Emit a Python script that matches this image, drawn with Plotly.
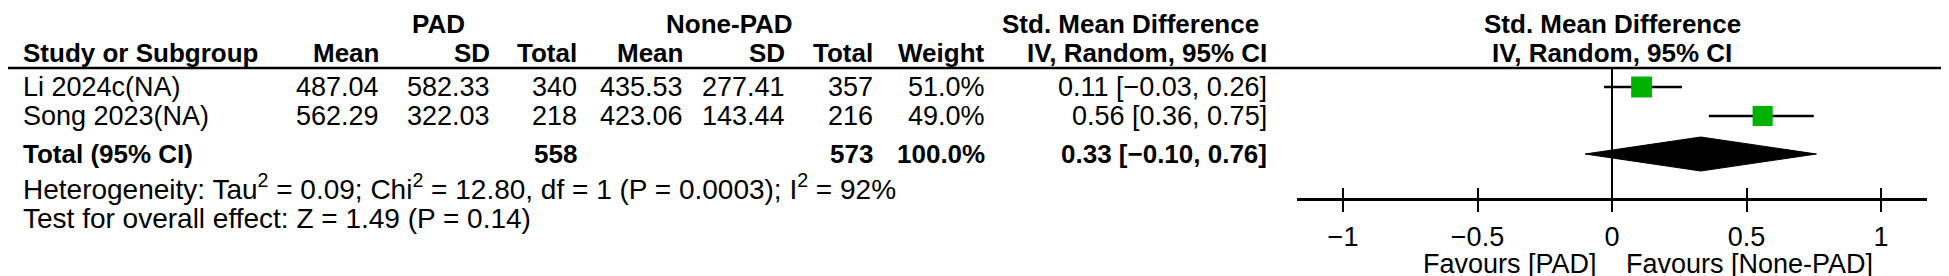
import plotly.graph_objects as go

# ---------------- data ----------------
studies = ["Li 2024c(NA)", "Song 2023(NA)"]
pad_mean = ["487.04", "562.29"]
pad_sd = ["582.33", "322.03"]
pad_total = [340, 218]
non_mean = ["435.53", "423.06"]
non_sd = ["277.41", "143.44"]
non_total = [357, 216]
weights = [51.0, 49.0]
smd = [0.11, 0.56]
ci_lo = [-0.03, 0.36]
ci_hi = [0.26, 0.75]

total_pad = 558
total_non = 573
total_weight = 100.0
pooled = 0.33
pooled_lo = -0.10
pooled_hi = 0.76

heterogeneity = "Heterogeneity: Tau<sup>2</sup> = 0.09; Chi<sup>2</sup> = 12.80, df = 1 (P = 0.0003); I<sup>2</sup> = 92%"
overall = "Test for overall effect: Z = 1.49 (P = 0.14)"

tick_vals = [-1, -0.5, 0, 0.5, 1]
tick_text = ["\u22121", "\u22120.5", "0", "0.5", "1"]
favours_left = "Favours [PAD]"
favours_right = "Favours [None-PAD]"

# ---------------- layout helpers ----------------
W, H = 1949, 276
FONT = "Liberation Sans"
FS = 27          # regular table text
FSF = 28         # footer text
FSB = 26         # bold text
GREEN = "rgb(0,178,0)"

HY1, HY2, LINE_Y = 16, 45, 60
ROW0, ROWH = 79, 29          # first study row pixel, study row spacing
TOTAL_Y = 146
HET_Y, TEST_Y = 179, 210
AXIS_Y = 191
FAV_Y = 256
X0, XK = 1604, 269           # pixel of SMD 0, pixels per SMD unit
XR = 1.17
LEFT_X = 13


def fx(px):
    return px / W


def fy(py):
    return 1 - py / H


row_y = [ROW0 + ROWH * i for i in range(len(studies))]

fig = go.Figure()

# CI lines + squares (y axis runs in pixel rows, top to bottom)
fig.add_trace(go.Scatter(
    x=smd, y=row_y, mode="markers",
    marker=dict(symbol="square", size=[w * 0.41 for w in weights], color=GREEN,
                line=dict(width=0), opacity=1),
    error_x=dict(type="data", symmetric=False,
                 array=[h - m for h, m in zip(ci_hi, smd)],
                 arrayminus=[m - l for m, l in zip(smd, ci_lo)],
                 thickness=2.5, width=0, color="black"),
    cliponaxis=False, showlegend=False, hoverinfo="skip"))

# pooled diamond
hh = 17
fig.add_trace(go.Scatter(
    x=[pooled_lo, pooled, pooled_hi, pooled, pooled_lo],
    y=[TOTAL_Y, TOTAL_Y - hh, TOTAL_Y, TOTAL_Y + hh, TOTAL_Y],
    mode="lines", fill="toself", fillcolor="black",
    line=dict(color="black", width=1), cliponaxis=False,
    showlegend=False, hoverinfo="skip"))

ann = []


def txt(text, x, y, anchor="right", bold=False, size=None):
    sz = size if size else (FSB if bold else FS)
    ann.append(dict(text=f"<b>{text}</b>" if bold else text, x=fx(x), y=fy(y),
                    xref="paper", yref="paper", xanchor=anchor, yanchor="middle",
                    showarrow=False,
                    font=dict(family=FONT, size=sz, color="black")))


# header row 1
txt("PAD", 430, HY1, "center", True)
txt("None-PAD", 721, HY1, "center", True)
txt("Std. Mean Difference", 1122, HY1, "center", True)
txt("Std. Mean Difference", X0, HY1, "center", True)
# header row 2
COLS = [373, 484, 571, 677, 779, 867, 979, 1261]
txt("Study or Subgroup", LEFT_X, HY2, "left", True)
for label, cx in zip(["Mean", "SD", "Total", "Mean", "SD", "Total", "Weight",
                      "IV, Random, 95% CI"], COLS):
    txt(label, cx, HY2, "right", True)
txt("IV, Random, 95% CI", X0, HY2, "center", True)

# study rows
for i, s in enumerate(studies):
    y = row_y[i]
    vals = [pad_mean[i], pad_sd[i], str(pad_total[i]), non_mean[i], non_sd[i],
            str(non_total[i]), f"{weights[i]:.1f}%",
            f"{smd[i]:.2f} [{ci_lo[i]:.2f}, {ci_hi[i]:.2f}]".replace("-", "\u2212")]
    txt(s, LEFT_X, y, "left")
    for v, cx in zip(vals, COLS):
        txt(v, cx, y, "right")

# total row
txt("Total (95% CI)", LEFT_X, TOTAL_Y, "left", True)
txt(str(total_pad), COLS[2], TOTAL_Y, "right", True)
txt(str(total_non), COLS[5], TOTAL_Y, "right", True)
txt(f"{total_weight:.1f}%", COLS[6], TOTAL_Y, "right", True)
txt(f"{pooled:.2f} [{pooled_lo:.2f}, {pooled_hi:.2f}]".replace("-", "\u2212"),
    COLS[7], TOTAL_Y, "right", True)

txt(heterogeneity, LEFT_X, HET_Y, "left", size=FSF)
txt(overall, LEFT_X, TEST_Y, "left", size=FSF)

# favours labels
for t, anc, sh in [(favours_left, "right", -13), (favours_right, "left", 12)]:
    ann.append(dict(text=t, x=0, xref="x", y=fy(FAV_Y), yref="paper",
                    xanchor=anc, yanchor="middle", xshift=sh, showarrow=False,
                    font=dict(family=FONT, size=FS, color="black")))

shapes = [
    dict(type="line", xref="paper", yref="paper", x0=0, x1=1,
         y0=fy(LINE_Y), y1=fy(LINE_Y), line=dict(color="black", width=2.5)),
    dict(type="line", xref="x", yref="paper", x0=0, x1=0,
         y0=fy(AXIS_Y), y1=fy(LINE_Y), line=dict(color="black", width=2)),
]

dom = [fx(X0 - XR * XK), fx(X0 + XR * XK)]
fig.update_layout(
    width=W, height=H, margin=dict(l=0, r=0, t=0, b=0),
    paper_bgcolor="white", plot_bgcolor="white",
    annotations=ann, shapes=shapes, showlegend=False,
    xaxis=dict(domain=dom, range=[-XR, XR], anchor="free", position=fy(AXIS_Y),
               showline=True, linecolor="black", linewidth=2.5,
               ticks="outside", ticklen=11, tickwidth=2, tickcolor="black",
               ticklabelstandoff=2,
               tickvals=tick_vals, ticktext=tick_text,
               tickfont=dict(family=FONT, size=FS, color="black"),
               showgrid=False, zeroline=False, fixedrange=True),
    xaxis2=dict(overlaying="x", matches="x", anchor="free", position=fy(AXIS_Y),
                domain=dom, range=[-XR, XR], ticks="inside", ticklen=11, tickwidth=2,
                tickcolor="black", tickvals=tick_vals, showticklabels=False,
                showline=False, showgrid=False, zeroline=False),
    yaxis=dict(domain=[0, 1], range=[H, 0], visible=False, fixedrange=True),
)
# invisible trace to activate the overlaid tick axis
fig.add_trace(go.Scatter(x=[0], y=[0], xaxis="x2", mode="markers",
                         marker=dict(opacity=0), showlegend=False, hoverinfo="skip"))

fig.write_html("out.html")
